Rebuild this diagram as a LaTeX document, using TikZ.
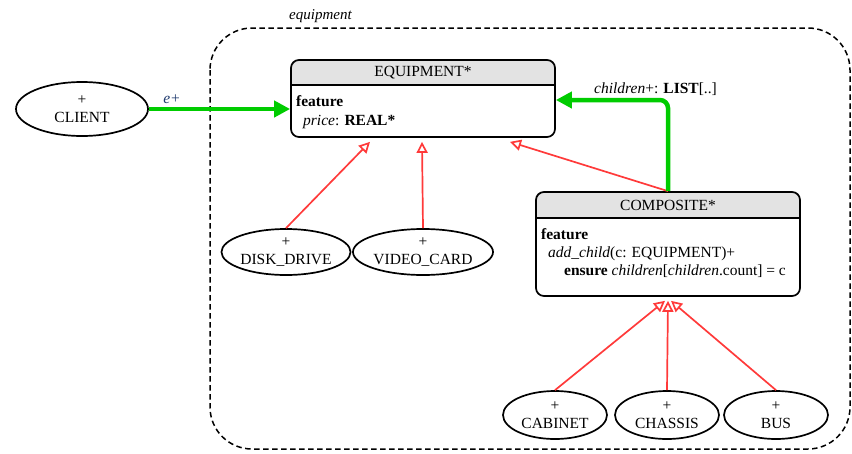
\documentclass[tikz,border=0pt]{standalone}
\usepackage{fontspec}
\setmainfont{Liberation Serif}
\usetikzlibrary{arrows.meta,shapes.geometric,backgrounds,calc}
\definecolor{headgray}{HTML}{E3E3E3}
\definecolor{inhred}{HTML}{FF3A3A}
\definecolor{assocgreen}{HTML}{00CC00}
\definecolor{labelblue}{HTML}{1F3A6E}
\tikzset{
  every node/.style={font=\fontsize{15.5}{18}\selectfont},
  classbox/.style={draw=black, line width=1.7pt, rounded corners=8pt, inner sep=0pt},
  leaf/.style={ellipse, draw=black, line width=1.7pt, inner sep=0pt, align=center},
  bodytext/.style={anchor=base west, inner sep=0pt},
  inherit/.style={draw=inhred, line width=1.7pt,
    -{Triangle[open, length=11pt, width=11pt, fill=white]}},
  assoc/.style={draw=assocgreen, line width=4.5pt,
    -{Triangle[length=16pt, width=16pt]}},
  cluster/.style={draw=black, line width=1.5pt, dash pattern=on 5.5pt off 3.5pt, rounded corners=42pt}
}
\begin{document}
\begin{tikzpicture}[x=1pt, y=-1pt]
\useasboundingbox (0,0) rectangle (852,453);

% package boundary
\draw[cluster] (210,28) rectangle (850,449);
\node[anchor=base west, inner sep=0pt, font=\fontsize{15}{18}\selectfont\itshape] (pkg) at (289,19) {equipment};

% classes
\node[classbox, minimum width=264pt, minimum height=77pt] (eq) at (423,98.5) {};
\node[classbox, minimum width=264pt, minimum height=104pt] (comp) at (668,244) {};
\begin{pgfonlayer}{background}
  \begin{scope}
    \clip[rounded corners=8pt] (eq.south west) rectangle (eq.north east);
    \fill[headgray] (eq.north west) rectangle ($(eq.north east)+(0,26)$);
  \end{scope}
  \begin{scope}
    \clip[rounded corners=8pt] (comp.south west) rectangle (comp.north east);
    \fill[headgray] (comp.north west) rectangle ($(comp.north east)+(0,27)$);
  \end{scope}
\end{pgfonlayer}
\draw[line width=1.5pt] ($(eq.north west)+(0,26)$) -- ($(eq.north east)+(0,26)$);
\draw[line width=1.5pt] ($(comp.north west)+(0,27)$) -- ($(comp.north east)+(0,27)$);

\node[inner sep=0pt] (eqname) at ($(eq.north)+(0,13.5)$) {EQUIPMENT*};
\node[bodytext] (eqfeat) at (296,106) {\textbf{feature}};
\node[bodytext] (eqprice) at (303,125) {\textit{price}: \textbf{REAL*}};

\node[inner sep=0pt] (compname) at ($(comp.north)+(0,14)$) {COMPOSITE*};
\node[bodytext] (compfeat) at (541,239) {\textbf{feature}};
\node[bodytext] (compadd) at (548,257) {\textit{add\_child}(c: EQUIPMENT)+};
\node[bodytext] (compens) at (564,275) {\textbf{ensure} \textit{children}[\textit{children}.count] = c};

% leaf classes
\node[leaf, minimum width=132pt, minimum height=54pt] (client) at (82,109) {+\\CLIENT};
\node[leaf, minimum width=128pt, minimum height=46pt] (disk) at (286,252) {+\\DISK\_DRIVE};
\node[leaf, minimum width=130pt, minimum height=46pt] (video) at (423,252) {+\\VIDEO\_CARD};
\node[leaf, minimum width=104pt, minimum height=48pt] (cabinet) at (555,415) {+\\CABINET};
\node[leaf, minimum width=104pt, minimum height=48pt] (chassis) at (667,415) {+\\CHASSIS};
\node[leaf, minimum width=104pt, minimum height=48pt] (bus) at (776,415) {+\\BUS};

% inheritance
\draw[inherit] (disk.north) -- ([xshift=-53pt, yshift=-4pt]eq.south);
\draw[inherit] (video.north) -- ([xshift=-1pt, yshift=-4pt]eq.south);
\draw[inherit] (comp.north) -- ([xshift=87pt, yshift=-4pt]eq.south);
\draw[inherit] (cabinet.north) -- ([xshift=-3pt, yshift=-4pt]comp.south);
\draw[inherit] (chassis.north) -- ([xshift=0pt, yshift=-4pt]comp.south);
\draw[inherit] (bus.north) -- ([xshift=3pt, yshift=-4pt]comp.south);

% client associations
\draw[assoc] (client.east) -- (client.east -| eq.west);
\node[anchor=base, inner sep=0pt, text=labelblue, font=\fontsize{15.5}{18}\selectfont\itshape] (elabel) at (172,103) {e+};
\draw[assoc, rounded corners=8pt] (comp.north) |- ($(eq.east)+(0,1.5)$);
\node[anchor=base west, inner sep=0pt] (chlabel) at (594,93) {\textit{children}+: \textbf{LIST}[..]};
\end{tikzpicture}
\end{document}
